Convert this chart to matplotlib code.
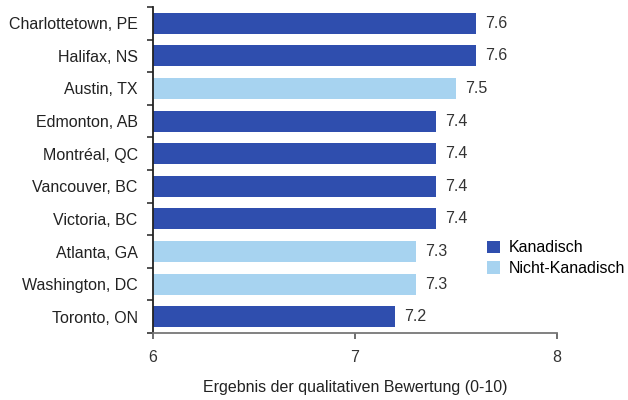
import matplotlib
matplotlib.use('Agg')
import matplotlib.pyplot as plt
from matplotlib.patches import Patch

cities = ['Charlottetown, PE', 'Halifax, NS', 'Austin, TX', 'Edmonton, AB',
          'Montréal, QC', 'Vancouver, BC', 'Victoria, BC', 'Atlanta, GA',
          'Washington, DC', 'Toronto, ON']
scores = [7.6, 7.6, 7.5, 7.4, 7.4, 7.4, 7.4, 7.3, 7.3, 7.2]
canadian = [True, True, False, True, True, True, True, False, False, True]

DARK = '#2f4eae'
LIGHT = '#a7d3f0'

plt.rcParams['font.family'] = ['Liberation Sans', 'DejaVu Sans']

fig = plt.figure(figsize=(6.28, 4.0), dpi=100)
ax = fig.add_axes([0.2436, 0.1675, 0.6433, 0.815])

ypos = list(range(len(cities)))
colors = [DARK if c else LIGHT for c in canadian]
bars = ax.barh(ypos, [s - 6 for s in scores], left=6, height=0.64,
               color=colors, edgecolor='none')

for y, s in zip(ypos, scores):
    ax.text(s + 0.045, y, f'{s:.1f}', va='center', ha='left',
            fontsize=11.5, color='#333333')

ax.set_xlim(6, 8)
ax.set_ylim(len(cities) - 0.5, -0.5)
ax.set_xticks([6, 7, 8])
ax.set_xticklabels(['6', '7', '8'], fontsize=11.5, color='#333333')
ax.tick_params(axis='x', length=4, width=1.2, color='#555555', pad=8)

# category labels sit between the boundary ticks
ax.set_yticks([y - 0.5 for y in ypos] + [len(cities) - 0.5])
ax.set_yticklabels([])
ax.set_yticks(ypos, minor=True)
ax.set_yticklabels(cities, minor=True, fontsize=11.5, color='#222222')
ax.tick_params(axis='y', which='major', length=4, width=1.2, color='#333333')
ax.tick_params(axis='y', which='minor', length=0, pad=11)

for side in ['top', 'right']:
    ax.spines[side].set_visible(False)
ax.spines['left'].set_color('#222222')
ax.spines['left'].set_linewidth(1.3)
ax.spines['bottom'].set_color('#777777')
ax.spines['bottom'].set_linewidth(1.3)

ax.set_xlabel('Ergebnis der qualitativen Bewertung (0-10)', fontsize=11.5,
              color='#222222', labelpad=11)

handles = [Patch(facecolor=DARK, label='Kanadisch'),
           Patch(facecolor=LIGHT, label='Nicht-Kanadisch')]
fig.legend(handles=handles, loc='upper left', bbox_to_anchor=(0.765, 0.415),
           frameon=False, fontsize=11.5, handlelength=0.8, handleheight=0.8,
           handletextpad=0.6, labelspacing=0.35, borderaxespad=0)

fig.savefig('out.png', dpi=100, facecolor='white')
